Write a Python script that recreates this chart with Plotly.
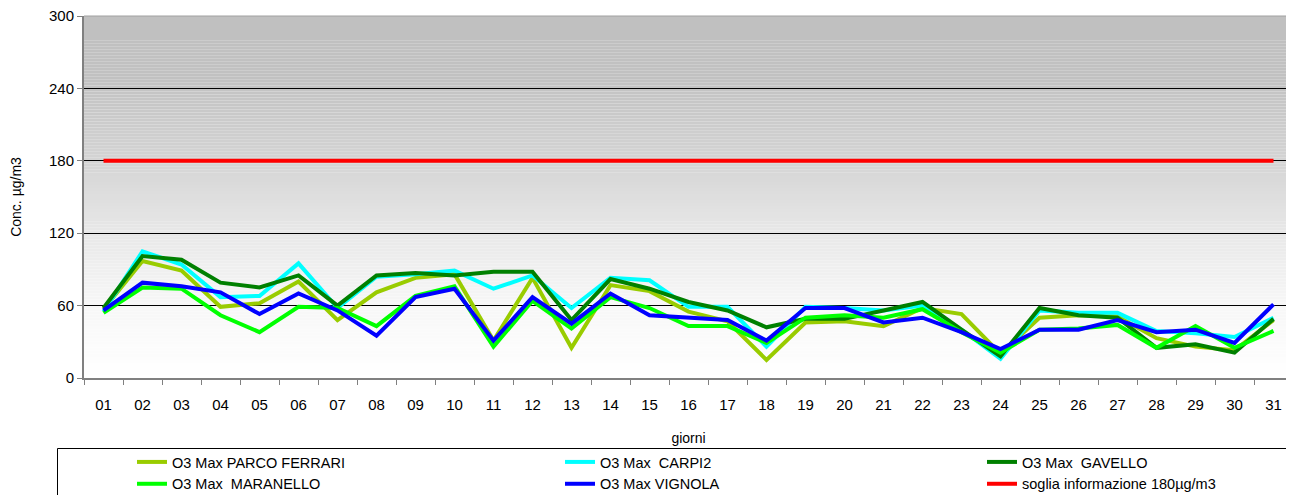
import plotly.graph_objects as go
import numpy as np

days = [f"{d:02d}" for d in range(1, 32)]

parco_ferrari = [57, 97, 89, 59, 62, 80, 48, 71, 83, 86, 31, 83, 25, 77, 72, 55, 47, 15, 46, 47, 43, 58, 53, 20, 50, 52, 51, 33, 26, 23, 48]
carpi2 = [55, 105, 94, 67, 68, 95, 58, 84, 86, 89, 74, 85, 58, 83, 81, 59, 59, 26, 59, 58, 56, 60, 40, 16, 56, 54, 54, 39, 37, 34, 50]
gavello = [58, 101, 98, 79, 75, 85, 60, 85, 87, 85, 88, 88, 48, 82, 74, 63, 56, 42, 49, 49, 56, 63, 40, 18, 58, 52, 50, 25, 28, 21, 49]
maranello = [54, 75, 74, 52, 38, 59, 58, 43, 68, 76, 26, 64, 41, 67, 58, 43, 43, 29, 50, 52, 50, 57, 38, 21, 40, 41, 44, 25, 43, 25, 39]
vignola = [56, 79, 76, 71, 53, 70, 56, 35, 67, 74, 31, 67, 45, 70, 52, 50, 48, 31, 58, 58, 46, 50, 38, 24, 40, 40, 48, 38, 40, 29, 61]
soglia = [180] * 31

# (name, values, colour, legend column)
series = [
    ("O3 Max PARCO FERRARI", parco_ferrari, "#99CC00", "legend"),
    ("O3 Max  CARPI2", carpi2, "#00FFFF", "legend2"),
    ("O3 Max  GAVELLO", gavello, "#008000", "legend3"),
    ("O3 Max  MARANELLO", maranello, "#00FF00", "legend"),
    ("O3 Max VIGNOLA", vignola, "#0000FF", "legend2"),
    ("soglia informazione 180µg/m3", soglia, "#FF0000", "legend3"),
]

# page body has an 8px margin: figure coordinates = page coordinates - 8
OFF = 8
W, H = 1294 - OFF, 495 - OFF
L, T = 84 - OFF, 16 - OFF
R = W - (1293 - OFF)
B = H - (378 - OFF)
PW, PH = W - L - R, H - T - B
PLOT_BOTTOM = 378 - OFF


def px_x(xp):  # page x -> paper x
    return (xp - OFF - L) / PW


def px_y(yp):  # page y -> paper y
    return (PLOT_BOTTOM - (yp - OFF)) / PH


fig = go.Figure()
for name, vals, col, leg in series:
    fig.add_trace(go.Scatter(x=days, y=vals, name=name, mode="lines", legend=leg,
                             line=dict(color=col, width=4)))

# gradient background (grey at the top fading to white at the bottom)
grad_y = [0, 60, 120, 180, 250, 300]
grad_g = [255, 247, 232, 212, 193, 192]
shapes = []
n = 120
for i in range(n):
    y0 = 300 * i / n
    y1 = 300 * (i + 1) / n
    g = int(round(float(np.interp((y0 + y1) / 2, grad_y, grad_g))))
    shapes.append(dict(type="rect", xref="paper", yref="y", x0=0, x1=1, y0=y0, y1=y1,
                       fillcolor=f"rgb({g},{g},{g})", line=dict(width=0), layer="below"))
# thin top border of the plot area
shapes.append(dict(type="line", xref="paper", yref="paper", x0=0, x1=1, y0=1, y1=1,
                   line=dict(color="#a0a0a0", width=1), layer="below"))
# legend border
shapes.append(dict(type="rect", xref="paper", yref="paper",
                   x0=px_x(57.5), x1=px_x(1300), y0=px_y(520), y1=px_y(448.5),
                   line=dict(color="black", width=1), fillcolor="rgba(0,0,0,0)", layer="above"))


def leg(xpage):
    return dict(orientation="v", x=px_x(xpage), xanchor="left",
                y=px_y(446), yanchor="top",
                bgcolor="rgba(0,0,0,0)", font=dict(size=14.5),
                tracegroupgap=0, itemwidth=30)


fig.update_layout(
    width=W, height=H,
    margin=dict(l=L, r=R, t=T, b=B, autoexpand=False),
    paper_bgcolor="white", plot_bgcolor="white",
    font=dict(family="Liberation Sans, Arial", size=14, color="black"),
    shapes=shapes,
    showlegend=True,
    legend=leg(132),
    legend2=leg(560),
    legend3=leg(982),
    xaxis=dict(type="category", categoryorder="array", categoryarray=days,
               range=[-0.5, 30.5], automargin=False,
               tickson="boundaries", ticks="outside", ticklen=5, tickcolor="#808080",
               ticklabelstandoff=12,
               showline=True, linecolor="#808080", linewidth=2, showgrid=False,
               tickfont=dict(size=15),
               title=dict(text="giorni", font=dict(size=14), standoff=21)),
    yaxis=dict(range=[0, 300], tickvals=[0, 60, 120, 180, 240, 300], automargin=False,
               ticks="outside", ticklen=5, tickcolor="#808080",
               ticklabeloverflow="allow",
               showline=True, linecolor="#808080", linewidth=2,
               showgrid=True, gridcolor="black", gridwidth=1, zeroline=False,
               tickfont=dict(size=15),
               title=dict(text="Conc. µg/m3", font=dict(size=14), standoff=40)),
)

fig.write_html("out.html")
